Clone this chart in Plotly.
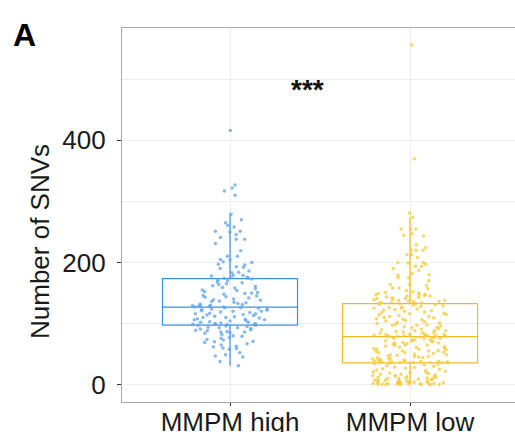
import plotly.graph_objects as go

categories = ["MMPM high", "MMPM low"]

high_values = [
    416, 327, 322, 317, 310, 279, 270, 265, 261, 258,
    251, 251, 250, 246, 241, 238, 238, 231, 219, 210,
    210, 205, 204, 201, 200, 197, 196, 193, 192, 190,
    186, 184, 183, 179, 179, 178, 176, 175, 174, 174,
    173, 171, 170, 168, 167, 165, 164, 162, 161, 159,
    158, 157, 155, 154, 152, 151, 150, 149, 148, 146,
    145, 144, 143, 142, 140, 139, 138, 137, 136, 135,
    134, 133, 132, 131, 130, 129, 129, 128, 128, 127,
    127, 126, 126, 125, 124, 123, 123, 122, 121, 120,
    120, 119, 118, 117, 116, 116, 115, 114, 113, 112,
    111, 110, 110, 109, 108, 107, 106, 106, 105, 104,
    103, 102, 102, 101, 100, 100, 99, 99, 98, 98,
    97, 97, 96, 95, 94, 93, 93, 92, 91, 90,
    89, 88, 87, 86, 86, 85, 84, 82, 80, 79,
    77, 76, 74, 73, 71, 70, 69, 67, 65, 63,
    62, 60, 59, 58, 52, 49, 47, 45, 38, 31,
]

low_values = [
    556, 370, 281, 274, 255, 255, 255, 247, 244, 243,
    229, 224, 221, 220, 220, 213, 213, 208, 200, 200,
    199, 197, 194, 194, 190, 187, 182, 180, 179, 175,
    175, 170, 164, 164, 162, 158, 158, 157, 154, 152,
    151, 150, 149, 148, 148, 147, 146, 145, 145, 144,
    143, 142, 141, 141, 140, 139, 138, 138, 137, 136,
    136, 135, 134, 134, 133, 133, 133,
    132, 131, 130, 129, 128, 127, 126, 125, 125, 124,
    123, 122, 121, 120, 119, 118, 117, 116, 115, 114,
    113, 112, 111, 110, 109, 108, 107, 106, 105, 104,
    103, 102, 101, 100, 99, 98, 97, 97, 96, 95,
    94, 93, 92, 91, 90, 89, 88, 88, 87, 86,
    85, 85, 84, 83, 83, 82, 82, 81, 81, 80,
    80, 80, 79, 79, 79, 79, 79,
    78, 78, 77, 76, 76, 75, 74, 74, 73, 72,
    71, 71, 70, 69, 68, 68, 67, 66, 65, 65,
    64, 63, 62, 61, 61, 60, 59, 58, 58, 57,
    56, 55, 55, 54, 53, 52, 52, 51, 50, 49,
    49, 48, 47, 46, 46, 45, 44, 44, 43, 42,
    41, 41, 40, 40, 39, 39, 38, 38, 37, 37,
    37, 36, 36, 36, 36, 36, 36,
    35, 34, 33, 32, 31, 30, 29, 28, 27, 26,
    25, 24, 23, 22, 21, 20, 20, 19, 18, 17,
    17, 16, 15, 15, 14, 13, 13, 12, 12, 11,
    11, 10, 10, 9, 9, 8, 8, 7, 7, 6,
    6, 6, 5, 5, 5, 4, 4, 4, 3, 3,
    3, 3, 2, 2, 2, 2, 1, 1, 1, 1,
    1, 0, 0, 0, 0, 0, 0,
]

y_ticks = [0, 200, 400]
signif_label = "***"

FONT = "Liberation Sans, Arial, sans-serif"
ML, MR, MT, MB = 122, 0, 28, 30
W, H = 515, 432

fig = go.Figure()
styles = [
    ("#3C90E4", "rgba(92,162,235,0.75)"),
    ("#EFBC1E", "rgba(245,200,55,0.75)"),
]
for cat, vals, (lc, mc) in zip(categories, [high_values, low_values], styles):
    fig.add_trace(go.Box(
        x=[cat] * len(vals),
        y=vals,
        name=cat,
        width=0.75,
        whiskerwidth=0,
        boxpoints="all",
        jitter=0.56,
        pointpos=0,
        fillcolor="rgba(0,0,0,0)",
        line=dict(color=lc, width=1.2),
        marker=dict(color=mc, size=3.5),
        showlegend=False,
        hoverinfo="y",
    ))

fig.update_layout(
    width=W,
    height=H,
    margin=dict(l=ML, r=MR, t=MT, b=MB, autoexpand=False),
    paper_bgcolor="white",
    plot_bgcolor="white",
    font=dict(family=FONT, color="#1a1a1a"),
    boxmode="overlay",
)

fig.update_xaxes(
    type="category",
    categoryorder="array",
    categoryarray=categories,
    range=[-0.6, 1.583],
    automargin=False,
    showgrid=True,
    gridcolor="#EDEDED",
    gridwidth=1,
    showline=True,
    linecolor="#A8A8A8",
    linewidth=1.2,
    mirror=True,
    ticks="outside",
    ticklen=3,
    tickcolor="#333333",
    ticklabelstandoff=-6,
    tickfont=dict(size=26, family=FONT, color="#1a1a1a"),
    zeroline=False,
)

fig.update_yaxes(
    range=[-28.5, 584],
    automargin=False,
    tickvals=y_ticks,
    ticktext=[str(v) for v in y_ticks],
    showgrid=True,
    gridcolor="#EDEDED",
    gridwidth=1,
    minor=dict(dtick=100, showgrid=True, gridcolor="#EDEDED", gridwidth=1),
    showline=True,
    linecolor="#A8A8A8",
    linewidth=1.2,
    ticks="outside",
    ticklen=4,
    tickcolor="#333333",
    ticklabelstandoff=6,
    tickfont=dict(size=26, family=FONT, color="#1a1a1a"),
    zeroline=False,
)

fig.add_annotation(
    x=0.43, y=484, xref="x", yref="y",
    text="<b>" + signif_label + "</b>", showarrow=False,
    font=dict(size=28, family=FONT, color="#111111"),
)

pw, ph = W - ML - MR, H - MT - MB


def px_to_paper(px, py):
    return (px - ML) / pw, (H - py - MB) / ph


tx, ty = px_to_paper(40, 242)
fig.add_annotation(
    x=tx, y=ty, xref="paper", yref="paper",
    text="Number of SNVs", showarrow=False, textangle=-90,
    xanchor="center", yanchor="middle",
    font=dict(size=26, family=FONT, color="#1a1a1a"),
)
ax, ay = px_to_paper(24, 35)
fig.add_annotation(
    x=ax, y=ay, xref="paper", yref="paper",
    text="<b>A</b>", showarrow=False,
    xanchor="center", yanchor="middle",
    font=dict(size=32, family=FONT, color="#000000"),
)

fig.write_html(
    "out.html",
    config={"displayModeBar": False},
    post_script="document.body.style.margin='0px';document.body.style.padding='0px';",
)
